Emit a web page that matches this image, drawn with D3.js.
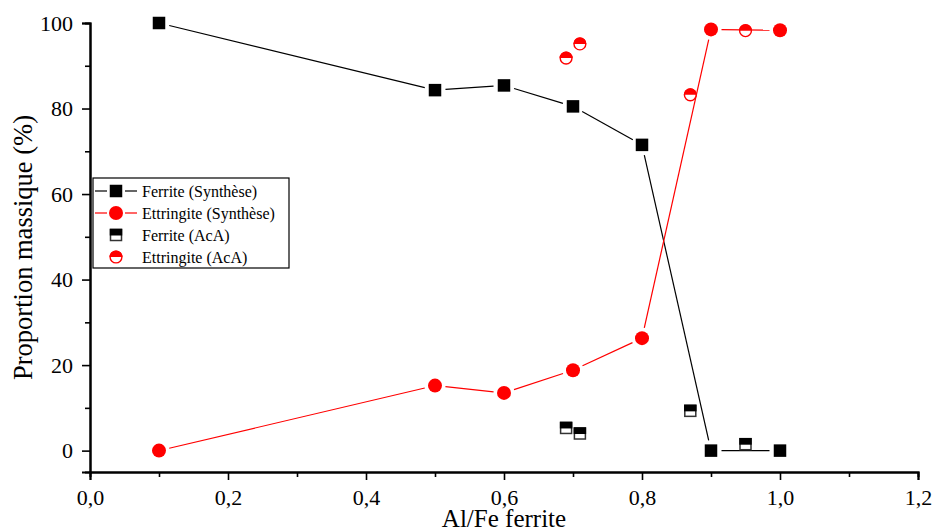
<!DOCTYPE html>
<html><head><meta charset="utf-8">
<script src="https://cdn.jsdelivr.net/npm/d3@7"></script>
</head><body style="margin:0"><svg id="c" width="933" height="532" font-family="Liberation Serif"></svg>
<script>
const ferriteSynX = [0.1, 0.5, 0.6, 0.7, 0.8, 0.9, 1.0];
const ferriteSynY = [100, 84.3, 85.4, 80.5, 71.5, 0, 0];
const ettrSynX = [0.1, 0.5, 0.6, 0.7, 0.8, 0.9, 1.0];
const ettrSynY = [0, 15.2, 13.5, 18.8, 26.3, 98.5, 98.3];
const ferriteAcaX = [0.69, 0.71, 0.87, 0.95];
const ferriteAcaY = [5.3, 4.0, 9.3, 1.5];
const ettrAcaX = [0.69, 0.71, 0.87, 0.95];
const ettrAcaY = [91.8, 95.1, 83.2, 98.2];
const xTicks = [0, 0.2, 0.4, 0.6, 0.8, 1.0, 1.2];
const yTicks = [0, 20, 40, 60, 80, 100];
const legendLabels = ["Ferrite (Synthèse)", "Ettringite (Synthèse)", "Ferrite (AcA)", "Ettringite (AcA)"];

const FONT = "Liberation Serif";
const svg = d3.select("#c");
const x = d3.scaleLinear().domain([0, 1.2]).range([90, 918]);
const y = d3.scaleLinear().domain([-5, 100]).range([472, 23]);
const fmt = d => d3.format(".1f")(d).replace(".", ",");
const RED = "#ff0000";

function txt(sel, size) {
  return sel.attr("font-family", FONT).attr("font-size", size)
    .style("font-family", "'Liberation Serif'").style("font-size", size + "px");
}

// axes
svg.append("g").attr("transform", "translate(0,472)")
  .call(d3.axisBottom(x).tickValues(xTicks).tickFormat(fmt).tickSizeOuter(0).tickSize(8).tickPadding(9));
svg.append("g").attr("transform", "translate(0,472)")
  .call(d3.axisBottom(x).tickValues(d3.range(0.1, 1.2, 0.2)).tickFormat("").tickSizeOuter(0).tickSize(5));
svg.append("g").attr("transform", "translate(90,0)")
  .call(d3.axisLeft(y).tickValues(yTicks).tickFormat(d3.format("d")).tickSizeOuter(0).tickSize(8).tickPadding(9));
svg.append("g").attr("transform", "translate(90,0)")
  .call(d3.axisLeft(y).tickValues([10, 30, 50, 70, 90]).tickFormat("").tickSizeOuter(0).tickSize(5));
svg.selectAll("g").attr("font-family", FONT);
svg.selectAll(".domain").attr("stroke", "#000").attr("stroke-width", 2);
svg.selectAll(".tick line").attr("stroke", "#000").attr("stroke-width", 1.6);
txt(svg.selectAll(".tick text").attr("fill", "#000"), 22);

txt(svg.append("text").attr("x", 504).attr("y", 527).attr("text-anchor", "middle"), 25).text("Al/Fe ferrite");
txt(svg.append("text").attr("transform", "translate(32,247.5) rotate(-90)").attr("text-anchor", "middle"), 26.5)
  .text("Proportion massique (%)");

// lines
const fSyn = ferriteSynX.map((v, i) => [v, ferriteSynY[i]]);
const eSyn = ettrSynX.map((v, i) => [v, ettrSynY[i]]);
const fAca = ferriteAcaX.map((v, i) => [v, ferriteAcaY[i]]);
const eAca = ettrAcaX.map((v, i) => [v, ettrAcaY[i]]);

function drawLineWithGaps(data, color, gap) {
  for (let i = 0; i < data.length - 1; i++) {
    const x1 = x(data[i][0]), y1 = y(data[i][1]), x2 = x(data[i + 1][0]), y2 = y(data[i + 1][1]);
    const dx = x2 - x1, dy = y2 - y1, L = Math.hypot(dx, dy);
    if (L <= 2 * gap) continue;
    svg.append("line").attr("x1", x1 + dx / L * gap).attr("y1", y1 + dy / L * gap)
      .attr("x2", x2 - dx / L * gap).attr("y2", y2 - dy / L * gap)
      .attr("stroke", color).attr("stroke-width", 1.2);
  }
}
drawLineWithGaps(fSyn, "#000", 10.5);
drawLineWithGaps(eSyn, RED, 10.5);

const S = 12.5, R = 6.5;
function square(g, cx, cy) {
  g.append("rect").attr("x", cx - S / 2).attr("y", cy - S / 2).attr("width", S).attr("height", S).attr("fill", "#000");
}
function circle(g, cx, cy) {
  g.append("circle").attr("cx", cx).attr("cy", cy).attr("r", R + 0.5).attr("fill", RED);
}
function halfSquare(g, cx, cy) {
  g.append("rect").attr("x", cx - S / 2 + 0.75).attr("y", cy - S / 2 + 0.75).attr("width", S - 1.5).attr("height", S - 1.5)
    .attr("fill", "#fff").attr("stroke", "#333").attr("stroke-width", 1.5);
  g.append("rect").attr("x", cx - S / 2).attr("y", cy - S / 2).attr("width", S).attr("height", S / 2 + 0.5).attr("fill", "#000");
}
function halfCircle(g, cx, cy) {
  g.append("circle").attr("cx", cx).attr("cy", cy).attr("r", R - 0.6).attr("fill", "#fff").attr("stroke", RED).attr("stroke-width", 1.4);
  g.append("path").attr("d", `M${cx - R},${cy} A${R},${R} 0 0 1 ${cx + R},${cy} Z`).attr("fill", RED);
}
const gm = svg.append("g");
fSyn.forEach(d => square(gm, x(d[0]), y(d[1])));
eSyn.forEach(d => circle(gm, x(d[0]), y(d[1])));
fAca.forEach(d => halfSquare(gm, x(d[0]), y(d[1])));
eAca.forEach(d => halfCircle(gm, x(d[0]), y(d[1])));

// legend
const lg = svg.append("g");
lg.append("rect").attr("x", 93).attr("y", 178).attr("width", 196).attr("height", 90)
  .attr("fill", "#fff").attr("stroke", "#000").attr("stroke-width", 1.2);
const rows = [191, 213, 235, 257];
const lx = 116;
lg.append("line").attr("x1", 95).attr("x2", 107).attr("y1", rows[0]).attr("y2", rows[0]).attr("stroke", "#000").attr("stroke-width", 1.2);
lg.append("line").attr("x1", 125).attr("x2", 137).attr("y1", rows[0]).attr("y2", rows[0]).attr("stroke", "#000").attr("stroke-width", 1.2);
square(lg, lx, rows[0]);
lg.append("line").attr("x1", 95).attr("x2", 107).attr("y1", rows[1]).attr("y2", rows[1]).attr("stroke", RED).attr("stroke-width", 1.2);
lg.append("line").attr("x1", 125).attr("x2", 137).attr("y1", rows[1]).attr("y2", rows[1]).attr("stroke", RED).attr("stroke-width", 1.2);
circle(lg, lx, rows[1]);
halfSquare(lg, lx, rows[2]);
halfCircle(lg, lx, rows[3]);
legendLabels.forEach((t, i) => {
  txt(lg.append("text").attr("x", 142).attr("y", rows[i] + 5.5), 16).text(t);
});
</script></body></html>
